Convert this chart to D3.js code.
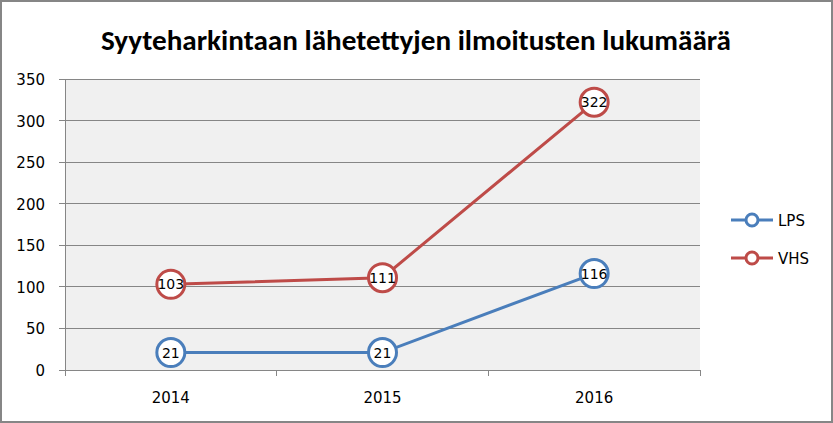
<!DOCTYPE html>
<html><head><meta charset="utf-8">
<script src="https://cdn.jsdelivr.net/npm/d3@7"></script>
<style>body{margin:0;background:#fff}svg{display:block}</style>
</head><body>
<svg id="c" width="833" height="423"></svg>
<script>
const title = "Syyteharkintaan lähetettyjen ilmoitusten lukumäärä";
const years = ["2014", "2015", "2016"];
const lps = [21, 21, 116];
const vhs = [103, 111, 322];
const yTicks = [0, 50, 100, 150, 200, 250, 300, 350];
const seriesNames = ["LPS", "VHS"];
const colors = ["#4a7ebb", "#be4b48"];

const svg = d3.select("#c");
const tfont = "Calibri, Carlito, Lato, 'Open Sans', sans-serif";
const font = "'DejaVu Sans', sans-serif";
svg.append("rect").attr("x",1).attr("y",1).attr("width",831).attr("height",421)
  .attr("fill","#fff").attr("stroke","#868686").attr("stroke-width",2);

const L=65, R=700, T=79, B=370;
const x = d3.scaleBand().domain(years).range([L,R]);
const y = d3.scaleLinear().domain([0,350]).range([B,T]);

svg.append("rect").attr("x",L).attr("y",T).attr("width",R-L).attr("height",B-T).attr("fill","#f0f0f0");

svg.append("g").selectAll("line").data(yTicks).join("line")
  .attr("x1",L-6).attr("x2",R).attr("y1",d=>y(d)).attr("y2",d=>y(d))
  .attr("stroke","#868686").attr("stroke-width",1).attr("shape-rendering","crispEdges");
svg.append("line").attr("x1",L).attr("x2",L).attr("y1",T).attr("y2",B)
  .attr("stroke","#868686").attr("shape-rendering","crispEdges");
const xt = years.map(v=>x(v)).concat([R]);
svg.append("g").selectAll("line").data(xt).join("line")
  .attr("x1",d=>d).attr("x2",d=>d).attr("y1",B).attr("y2",B+6)
  .attr("stroke","#868686").attr("shape-rendering","crispEdges");

svg.append("g").selectAll("text").data(yTicks).join("text")
  .attr("x",45).attr("y",d=>y(d)+6).attr("text-anchor","end")
  .attr("font-family",font).attr("font-size",15).attr("fill","#000").text(d=>d);
svg.append("g").selectAll("text").data(years).join("text")
  .attr("x",d=>x(d)+x.bandwidth()/2).attr("y",403).attr("text-anchor","middle")
  .attr("font-family",font).attr("font-size",15).attr("fill","#000").text(d=>d);

svg.append("text").attr("x",416).attr("y",50).attr("text-anchor","middle")
  .attr("font-family",tfont).attr("font-weight","bold").attr("font-size",28)
  .attr("textLength",630).attr("lengthAdjust","spacingAndGlyphs").text(title);

const cx = d=>x(d)+x.bandwidth()/2;
const line = d3.line().x((d,i)=>cx(years[i])).y(d=>y(d));
[lps, vhs].forEach((s,k)=>{
  svg.append("path").datum(s).attr("d",line).attr("fill","none")
    .attr("stroke",colors[k]).attr("stroke-width",3);
  const g = svg.append("g");
  g.selectAll("circle").data(s).join("circle")
    .attr("cx",(d,i)=>cx(years[i])).attr("cy",d=>y(d)).attr("r",14)
    .attr("fill","#fff").attr("stroke",colors[k]).attr("stroke-width",3);
  g.selectAll("text").data(s).join("text")
    .attr("x",(d,i)=>cx(years[i])).attr("y",d=>y(d)+5)
    .attr("text-anchor","middle").attr("font-family",font).attr("font-size",14)
    .attr("fill","#000").text(d=>d);
});

const lg = svg.append("g");
seriesNames.forEach((n,k)=>{
  const ly = 220 + k*38;
  lg.append("line").attr("x1",731).attr("x2",773).attr("y1",ly).attr("y2",ly)
    .attr("stroke",colors[k]).attr("stroke-width",3);
  lg.append("circle").attr("cx",752).attr("cy",ly).attr("r",6)
    .attr("fill","#fff").attr("stroke",colors[k]).attr("stroke-width",3);
  lg.append("text").attr("x",778).attr("y",ly+6)
    .attr("font-family",font).attr("font-size",15).attr("fill","#000").text(n);
});
</script>
</body></html>
